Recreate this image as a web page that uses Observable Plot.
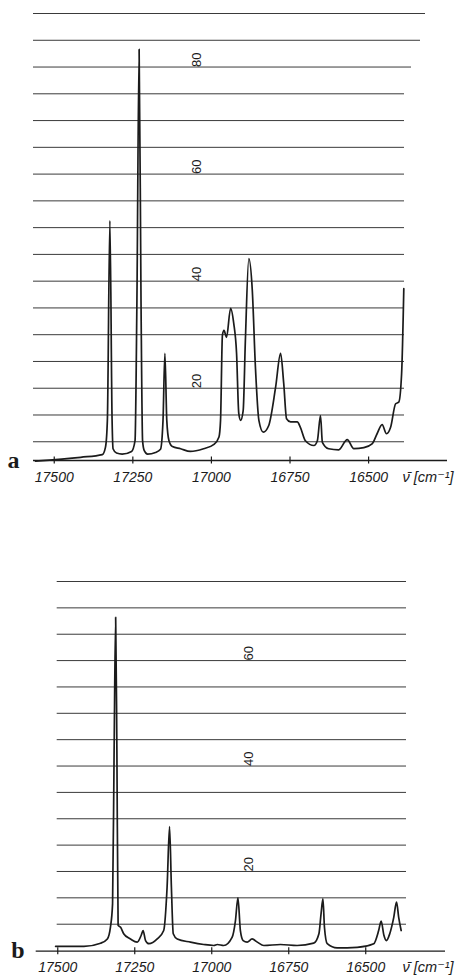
<!DOCTYPE html>
<html>
<head>
<meta charset="utf-8">
<script src="https://cdn.jsdelivr.net/npm/d3@7"></script>
<script src="https://cdn.jsdelivr.net/npm/@observablehq/plot@0.6"></script>
<style>
  html, body { margin: 0; padding: 0; background: #ffffff; }
  #wrap { width: 467px; }
  #wrap svg { display: block; }
</style>
</head>
<body>
<div id="wrap"></div>
<script>
// ---------- data ----------
const xTicks = [17500, 17250, 17000, 16750, 16500];
const xTickLabels = ["17500", "17250", "17000", "16750", "16500"];
const axisLabel = "ν\u0304 [cm⁻¹]";

// panel a
const gridA = [10, 15, 20, 25, 30, 35, 40, 45, 50, 55, 60, 65, 70, 75, 80, 85, 90];
const gridLabelsA = [20, 40, 60, 80];
const waveA = [17560, 17416, 17347, 17337, 17331, 17323, 17316, 17313, 17302, 17284,
  17254, 17243, 17237, 17230, 17224, 17219, 17214, 17203, 17178, 17162,
  17154, 17148, 17142, 17135, 17124, 17098, 17067, 17025, 16992, 16976,
  16971, 16965, 16960, 16952, 16939, 16929, 16920, 16913, 16907, 16899,
  16892, 16881, 16870, 16860, 16849, 16835, 16818, 16796, 16780, 16770,
  16761, 16748, 16727, 16717, 16701, 16674, 16663, 16653, 16647, 16627,
  16595, 16568, 16547, 16515, 16489, 16473, 16457, 16443, 16430, 16414,
  16404, 16395, 16388];
const intensityA = [6.4, 7.1, 7.6, 9.0, 14.0, 51.3, 14.0, 8.7, 7.9, 7.7,
  8.2, 10.2, 36.4, 83.3, 36.4, 10.2, 8.4, 7.7, 8.0, 8.6,
  14.0, 26.5, 14.0, 10.2, 9.1, 8.7, 8.2, 8.7, 9.5, 10.9,
  14.0, 29.9, 30.8, 29.5, 34.9, 32.1, 26.5, 15.3, 14.0, 15.8,
  28.9, 44.2, 38.3, 23.9, 14.0, 11.8, 13.0, 20.1, 26.5, 20.9,
  14.3, 13.7, 13.7, 12.7, 10.2, 9.3, 10.2, 14.9, 9.9, 8.7,
  8.5, 10.4, 8.7, 8.9, 9.6, 11.5, 13.2, 11.5, 12.7, 17.1,
  17.4, 22.7, 38.6];

// panel b
const gridB = [10, 15, 20, 25, 30, 35, 40, 45, 50, 55, 60, 65, 70, 75];
const gridLabelsB = [20, 40, 60];
const waveB = [17507, 17415, 17361, 17339, 17329, 17322, 17317, 17312, 17308, 17304,
  17296, 17286, 17264, 17242, 17229, 17223, 17215, 17204, 17177, 17156,
  17145, 17137, 17131, 17125, 17112, 17069, 17026, 16993, 16982, 16961,
  16934, 16923, 16915, 16907, 16898, 16885, 16869, 16852, 16831, 16777,
  16723, 16669, 16652, 16645, 16639, 16634, 16625, 16593, 16528, 16474,
  16458, 16450, 16441, 16433, 16422, 16409, 16400, 16393, 16385];
const intensityB = [5.8, 5.8, 6.4, 7.2, 9.4, 13.9, 42.9, 68.2, 42.9, 9.8,
  9.4, 8.2, 7.2, 6.6, 7.9, 8.8, 6.9, 6.3, 7.2, 8.8,
  17.0, 28.5, 17.0, 8.2, 7.2, 6.6, 6.15, 5.96, 6.15, 5.96,
  7.5, 10.7, 15.0, 8.8, 6.9, 6.6, 7.2, 6.6, 5.96, 6.15,
  5.96, 6.4, 8.2, 12.0, 14.8, 9.4, 6.3, 5.5, 5.6, 6.3,
  8.8, 10.6, 7.9, 6.9, 8.2, 11.3, 14.2, 11.3, 8.8];

// ---------- helpers ----------
const seriesA = waveA.map((v, i) => ({v, I: intensityA[i]}));
const seriesB = waveB.map((v, i) => ({v, I: intensityB[i]}));
const tickRows = xTicks.map((v, i) => ({v, label: xTickLabels[i]}));

const INK = "#1b1b1b";
const GRID = "#3a3a3a";

function panel({series, grid, gridLabels, letter, height, margins, xDomain, yDomain,
                gridInsetLeft, longGrid, gridLabelDx, letterDx, letterDy, tickDy, labelDx}) {
  const normalGrid = grid.filter(g => !longGrid.some(l => l.y === g));
  const marks = [
    Plot.ruleY(normalGrid, {y: d => d, stroke: GRID, strokeWidth: 1, insetLeft: gridInsetLeft, insetRight: margins.gridRight}),
    ...longGrid.map(l => Plot.ruleY([l.y], {y: d => d, stroke: GRID, strokeWidth: 1, insetLeft: gridInsetLeft, insetRight: l.insetRight})),
    Plot.ruleY([yDomain[0]], {y: d => d, stroke: INK, strokeWidth: 1.3}),
    Plot.axisX({ticks: xTicks, tickSize: 7, dy: -3.5, fill: "none", stroke: INK, strokeWidth: 1.2, label: null}),
    Plot.text(tickRows, {x: "v", text: "label", frameAnchor: "bottom", dy: tickDy, lineAnchor: "middle",
      fontSize: 14, fontStyle: "italic", fontFamily: "Liberation Sans, Arial, sans-serif", fill: INK}),
    Plot.text([axisLabel], {text: d => d, frameAnchor: "bottom-right", dx: labelDx, dy: tickDy, lineAnchor: "middle",
      textAnchor: "start", fontSize: 14.5, fontStyle: "italic", fontFamily: "Liberation Sans, DejaVu Sans, sans-serif", fill: INK}),
    Plot.text(gridLabels, {y: d => d, text: d => String(d), frameAnchor: "left", dx: gridLabelDx, rotate: -90,
      fontSize: 13, fontFamily: "Liberation Sans, Arial, sans-serif", fill: INK}),
    Plot.text([letter], {text: d => d, frameAnchor: "bottom-left", dx: letterDx, dy: letterDy, textAnchor: "start",
      lineAnchor: "middle", fontSize: 24, fontWeight: "bold", fontFamily: "Liberation Serif, Times New Roman, serif", fill: INK}),
    Plot.line(series, {x: "v", y: "I", stroke: INK, strokeWidth: 1.7, strokeLinejoin: "round", curve: "monotone-x"})
  ];
  return Plot.plot({
    width: 467,
    height,
    marginTop: margins.top,
    marginBottom: margins.bottom,
    marginLeft: margins.left,
    marginRight: margins.right,
    x: {domain: xDomain, axis: null},
    y: {domain: yDomain, axis: null},
    style: {background: "#ffffff", overflow: "visible"},
    marks
  });
}

const wrap = document.getElementById("wrap");

wrap.appendChild(panel({
  series: seriesA, grid: gridA, gridLabels: gridLabelsA, letter: "a",
  height: 490,
  margins: {top: 13, bottom: 30, left: 33, right: 20, gridRight: 43},
  xDomain: [17566, 16249], yDomain: [6.5, 90],
  gridInsetLeft: 0,
  longGrid: [{y: 90, insetRight: 22}, {y: 85, insetRight: 27}, {y: 80, insetRight: 36}],
  gridLabelDx: 163, letterDx: -26, letterDy: 0, tickDy: 17, labelDx: -45
}));

wrap.appendChild(panel({
  series: seriesB, grid: gridB, gridLabels: gridLabelsB, letter: "b",
  height: 486,
  margins: {top: 91, bottom: 25.3, left: 35.7, right: 22, gridRight: 39},
  xDomain: [17570, 16241], yDomain: [4.88, 75],
  gridInsetLeft: 21,
  longGrid: [],
  gridLabelDx: 213, letterDx: -25, letterDy: -1, tickDy: 16.3, labelDx: -43
}));
</script>
</body>
</html>
